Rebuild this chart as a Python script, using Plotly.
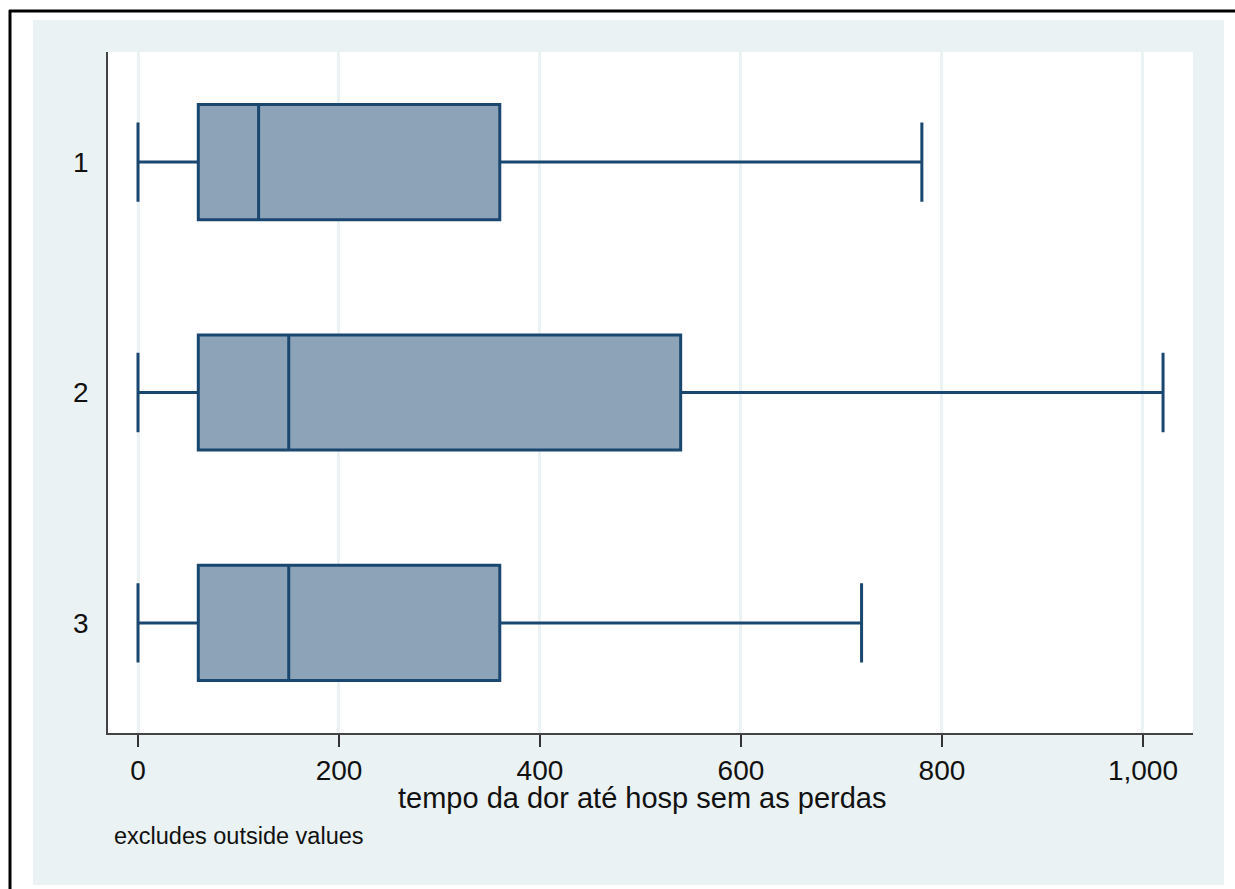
import plotly.graph_objects as go

# Grupos e estatísticas resumidas (minutos)
grupos = ["1", "2", "3"]
minimo = [0, 0, 0]
q1 = [60, 60, 60]
mediana = [120, 150, 150]
q3 = [360, 540, 360]
maximo = [780, 1020, 720]

x_ticks = [0, 200, 400, 600, 800, 1000]

NAVY = "#1A476F"
FILL = "#8DA3B8"
REGION = "#EAF2F3"
GRID = "#EAF2F3"
FONT = "Liberation Sans, Arial, sans-serif"

W, H = 1235, 889
ML, MR, MT, MB = 108, 42, 52, 156
PW, PH = W - ML - MR, H - MT - MB


def px_x(p):
    return (p - ML) / PW


def px_y(p):
    return (H - MB - p) / PH


fig = go.Figure()
fig.add_trace(go.Box(
    y=grupos,
    q1=q1, median=mediana, q3=q3,
    lowerfence=minimo, upperfence=maximo,
    orientation="h",
    width=0.5,
    whiskerwidth=0.69,
    fillcolor=FILL,
    line=dict(color=NAVY, width=3),
    boxpoints=False,
    showlegend=False,
))

shapes = [
    # graph region
    dict(type="rect", xref="paper", yref="paper",
         x0=px_x(33), x1=px_x(1224), y0=px_y(885), y1=px_y(20),
         fillcolor=REGION, line=dict(width=0), layer="below"),
    # plot area
    dict(type="rect", xref="paper", yref="paper",
         x0=0, x1=1, y0=0, y1=1,
         fillcolor="white", line=dict(width=0), layer="below"),
    # outer frame (top and left)
    dict(type="line", xref="paper", yref="paper",
         x0=px_x(9), x1=px_x(1236), y0=px_y(11), y1=px_y(11),
         line=dict(color="black", width=3)),
    dict(type="line", xref="paper", yref="paper",
         x0=px_x(10), x1=px_x(10), y0=px_y(10), y1=px_y(890),
         line=dict(color="black", width=3)),
]

fig.update_layout(
    width=W, height=H,
    margin=dict(l=ML, r=MR, t=MT, b=MB),
    paper_bgcolor="white",
    plot_bgcolor="white",
    font=dict(family=FONT, color="#111111"),
    shapes=shapes,
    boxmode="overlay",
    xaxis=dict(
        range=[-29.85, 1049.8],
        tickvals=x_ticks,
        tickformat=",",
        tickfont=dict(size=28, color="#111111"),
        ticks="outside", ticklen=12, tickwidth=1.5, tickcolor="#333333",
        showline=True, linecolor="#444444", linewidth=1.5,
        showgrid=True, gridcolor=GRID, gridwidth=2.5,
        zeroline=False,
    ),
    yaxis=dict(
        type="category",
        categoryorder="array", categoryarray=grupos,
        range=[2.478, -0.478],
        tickfont=dict(size=28, color="#111111"),
        ticks="", ticklabelstandoff=12,
        showline=True, linecolor="#444444", linewidth=1.5,
        showgrid=False, zeroline=False,
    ),
    annotations=[
        dict(text="tempo da dor até hosp sem as perdas",
             xref="paper", yref="paper",
             x=px_x(641.5), y=px_y(798),
             xanchor="center", yanchor="middle", showarrow=False,
             font=dict(size=29, color="#111111")),
        dict(text="excludes outside values",
             xref="paper", yref="paper",
             x=px_x(112), y=px_y(836),
             xanchor="left", yanchor="middle", showarrow=False,
             font=dict(size=23.5, color="#111111")),
    ],
)

fig.write_html("out.html")
